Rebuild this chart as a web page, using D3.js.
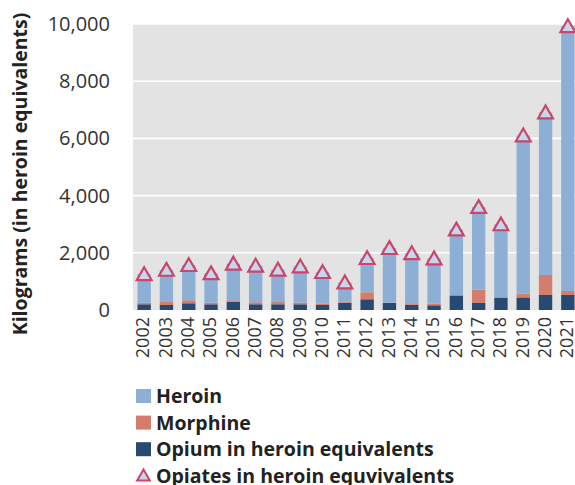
<!DOCTYPE html>
<html>
<head>
<meta charset="utf-8">
<script src="https://cdn.jsdelivr.net/npm/d3@7"></script>
<style>
  body { margin: 0; background: #fff; }
  svg { display: block; font-family: "Open Sans", sans-serif; }
</style>
</head>
<body>
<svg id="chart" width="575" height="485"></svg>
<script>
// Data (kg, heroin equivalents)
const years = ["2002", "2003", "2004", "2005", "2006", "2007", "2008", "2009", "2010", "2011",
  "2012", "2013", "2014", "2015", "2016", "2017", "2018", "2019", "2020", "2021"];
const opium = [200, 175, 235, 200, 290, 200, 200, 200, 175, 255, 375, 245, 185, 165, 490, 245, 430, 440, 525, 525];
const morphine = [55, 105, 105, 55, 50, 70, 80, 60, 45, 35, 245, 10, 50, 55, 35, 470, 20, 135, 700, 140];
const heroin = [995, 1120, 1225, 1025, 1275, 1275, 1125, 1260, 1100, 670, 1190, 1905, 1745, 1580, 2285, 2880, 2540, 5525, 5680, 9255];
const opiates = [1250, 1400, 1565, 1280, 1615, 1545, 1405, 1520, 1320, 960, 1810, 2160, 1980, 1800, 2810, 3595, 2990, 6100, 6905, 9920];
const yTicks = [0, 2000, 4000, 6000, 8000, 10000];

const seriesKeys = ["opium", "morphine", "heroin"];
const colors = { heroin: "#8eafd5", morphine: "#d57d6c", opium: "#284a70" };
const legendItems = [
  { key: "heroin", label: "Heroin" },
  { key: "morphine", label: "Morphine" },
  { key: "opium", label: "Opium in heroin equivalents" },
  { key: "opiates", label: "Opiates in heroin equvivalents" }
];

const rows = years.map((y, i) => ({ year: y, opium: opium[i], morphine: morphine[i], heroin: heroin[i] }));

const svg = d3.select("#chart");
const plot = { left: 133, right: 579, top: 24, bottom: 310 };

const x = d3.scaleBand().domain(years).range([plot.left, plot.right])
  .paddingInner(0.4).paddingOuter(0.2);
const y = d3.scaleLinear().domain([0, 10000]).range([plot.bottom, plot.top]);

// plot background
svg.append("rect")
  .attr("x", plot.left).attr("y", plot.top)
  .attr("width", plot.right - plot.left).attr("height", plot.bottom - plot.top)
  .attr("fill", "#e3e3e3");

// gridlines
svg.append("g").selectAll("line")
  .data(yTicks.filter(d => d > 0))
  .join("line")
  .attr("x1", plot.left).attr("x2", plot.right)
  .attr("y1", d => y(d)).attr("y2", d => y(d))
  .attr("stroke", "#fff").attr("stroke-width", 1.6);

// y axis
const yAxis = svg.append("g")
  .attr("transform", `translate(${plot.left},0)`)
  .call(d3.axisLeft(y).tickValues(yTicks).tickFormat(d3.format(",")).tickSize(0).tickPadding(23));
yAxis.select(".domain").remove();
yAxis.selectAll("text").attr("font-size", 20).attr("fill", "#333")
  .attr("font-family", "Open Sans, sans-serif");

// x axis
const xAxis = svg.append("g")
  .attr("transform", `translate(0,${plot.bottom})`)
  .call(d3.axisBottom(x).tickSize(0).tickPadding(0));
xAxis.select(".domain").remove();
xAxis.selectAll("text")
  .attr("font-size", 18).attr("fill", "#333")
  .attr("font-family", "Open Sans, sans-serif")
  .attr("transform", "rotate(-90)")
  .attr("text-anchor", "end")
  .attr("x", -7).attr("y", -1).attr("dy", "0.35em");

// stacked bars
const stack = d3.stack().keys(seriesKeys)(rows);
svg.append("g").selectAll("g")
  .data(stack)
  .join("g")
  .attr("fill", d => colors[d.key])
  .selectAll("rect")
  .data(d => d)
  .join("rect")
  .attr("x", d => x(d.data.year))
  .attr("width", x.bandwidth())
  .attr("y", d => y(d[1]))
  .attr("height", d => y(d[0]) - y(d[1]));

// triangle markers
const tri = d3.symbol().type(d3.symbolTriangle).size(95);
svg.append("g").selectAll("path")
  .data(opiates)
  .join("path")
  .attr("d", tri)
  .attr("transform", (d, i) => `translate(${x(years[i]) + x.bandwidth() / 2},${y(d) + 1.5})`)
  .attr("fill", "#c8d6ec")
  .attr("stroke", "#c8466b")
  .attr("stroke-width", 2.2);

// y title
svg.append("text")
  .attr("transform", "translate(27,174) rotate(-90)")
  .attr("text-anchor", "middle")
  .attr("font-size", 19.5).attr("font-weight", "bold").attr("fill", "#222")
  .text("Kilograms (in heroin equivalents)");

// legend
const legend = svg.append("g").attr("transform", "translate(136,396)");
const li = legend.selectAll("g").data(legendItems).join("g")
  .attr("transform", (d, i) => `translate(0,${i * 26.6})`);
li.filter(d => d.key !== "opiates").append("rect")
  .attr("x", 0).attr("y", -7).attr("width", 15).attr("height", 14)
  .attr("fill", d => colors[d.key]);
li.filter(d => d.key === "opiates").append("path")
  .attr("d", d3.symbol().type(d3.symbolTriangle).size(70))
  .attr("transform", "translate(7.5,1)")
  .attr("fill", "#c8d6ec").attr("stroke", "#c8466b").attr("stroke-width", 2);
li.append("text")
  .attr("x", 20).attr("dy", "0.36em")
  .attr("font-size", 19.5).attr("font-weight", "bold").attr("fill", "#222")
  .text(d => d.label);
</script>
</body>
</html>
